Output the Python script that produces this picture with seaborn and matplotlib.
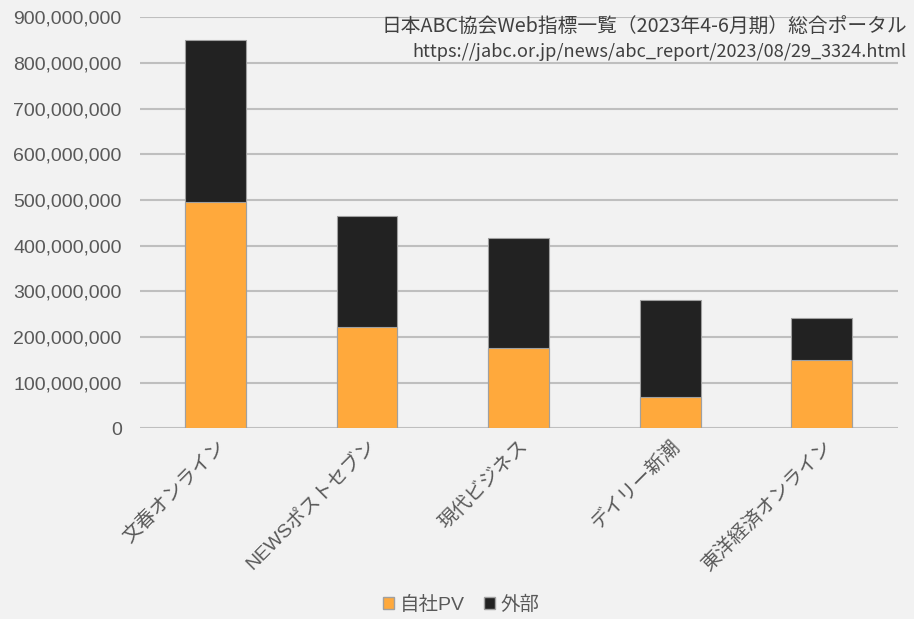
import pandas as pd
import matplotlib.pyplot as plt
import matplotlib.ticker as mticker
from matplotlib.patches import Patch
import seaborn as sns

# データ（画像から読み取った概算値）
media = ['文春オンライン', 'NEWSポストセブン', '現代ビジネス', 'デイリー新潮', '東洋経済オンライン']
own_pv = [495e6, 222e6, 177e6, 69e6, 149e6]
external_pv = [356e6, 243e6, 239e6, 213e6, 93e6]

source_title = '日本ABC協会Web指標一覧（2023年4-6月期）総合ポータル'
source_url = 'https://jabc.or.jp/news/abc_report/2023/08/29_3324.html'

df = pd.DataFrame({'media': media, 'own': own_pv, 'ext': external_pv})
df['total'] = df['own'] + df['ext']

sns.set_theme(style='white')
plt.rcParams['font.family'] = ['Liberation Sans', 'Noto Sans CJK JP', 'DejaVu Sans']
bg = '#f2f2f2'

fig, ax = plt.subplots(figsize=(9.14, 6.19), dpi=100)
fig.patch.set_facecolor(bg)
ax.set_facecolor(bg)
fig.subplots_adjust(left=0.153, right=0.982, top=0.972, bottom=0.308)

# 積み上げ棒：合計を描いてから自社PVを重ねる
sns.barplot(data=df, x='media', y='total', color='#222222', width=0.4,
            edgecolor='#a0a0a0', linewidth=0.8, saturation=1, ax=ax, zorder=3)
sns.barplot(data=df, x='media', y='own', color='#ffa93c', width=0.4,
            edgecolor='#a0a0a0', linewidth=0.8, saturation=1, ax=ax, zorder=4)

ax.set_ylim(0, 900e6)
ax.set_xlim(-0.5, 4.5)
ax.yaxis.set_major_locator(mticker.MultipleLocator(100e6))
ax.yaxis.set_major_formatter(mticker.FuncFormatter(lambda v, p: f'{int(v):,}'))
ax.grid(axis='y', color='#bfbfbf', linewidth=1.5, zorder=0)
ax.set_axisbelow(True)
for s in ax.spines.values():
    s.set_visible(False)
ax.set_xlabel('')
ax.set_ylabel('')
ax.tick_params(axis='y', colors='#595959', labelsize=14, length=0, pad=13)
ax.tick_params(axis='x', colors='#595959', labelsize=14, length=0, pad=6)
plt.setp(ax.get_xticklabels(), rotation=45, ha='right', rotation_mode='anchor')

# 出典（右上）
cjk = ['Noto Sans CJK JP', 'DejaVu Sans']
fig.text(0.9923, 0.9564, source_title, ha='right', va='center', fontsize=14.2,
         color='#404040', family=cjk, zorder=5)
fig.text(0.9923, 0.9160, source_url, ha='right', va='center', fontsize=13.1,
         color='#404040', family=cjk, zorder=5)

# 凡例
handles = [Patch(facecolor='#ffa93c', edgecolor='#a0a0a0', label='自社PV'),
           Patch(facecolor='#222222', edgecolor='#a0a0a0', label='外部')]
fig.legend(handles=handles, loc='lower center', bbox_to_anchor=(0.505, -0.02), ncol=2,
           frameon=False, fontsize=14, labelcolor='#595959', handlelength=0.55,
           handleheight=0.55, handletextpad=0.3, columnspacing=1.0)

plt.savefig('out.png', dpi=100, facecolor=bg)
